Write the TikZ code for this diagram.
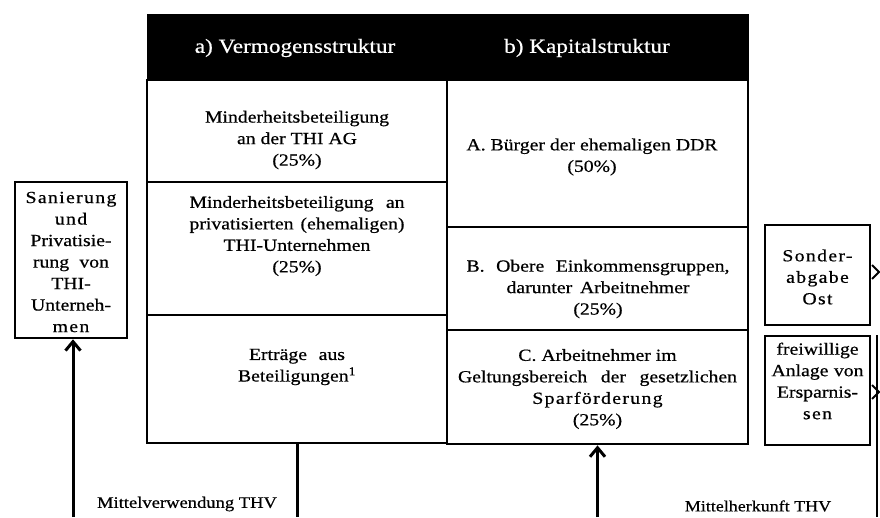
\documentclass[tikz,border=0pt]{standalone}
\usepackage{fontspec}
\setmainfont[FakeStretch=1.16,FakeBold=0.6]{Liberation Serif}
\newfontfamily\spacedfont[FakeStretch=1.16,FakeBold=0.6,LetterSpace=8]{Liberation Serif}
\usetikzlibrary{arrows.meta,calc}
\newcommand{\jl}[2]{\makebox[#1][s]{#2}}
\begin{document}
\begin{tikzpicture}[x=1pt,y=-1pt,
  cell/.style={draw=black,line width=2.8pt,fill=white,inner sep=0pt},
  sidebox/.style={draw=black,line width=2.5pt,fill=white,inner sep=0pt},
  txt/.style={inner sep=0pt,align=center,font=\fontsize{17}{21.5}\selectfont},
  headtxt/.style={inner sep=0pt,text=white,font=\fontsize{20}{24}\selectfont},
  lbl/.style={inner sep=0pt,font=\fontsize{16}{19}\selectfont},
  flow/.style={line width=3pt},
  flowarrow/.style={line width=3pt,-{Straight Barb[length=9pt,width=15pt]}},
  chev/.style={line width=2pt}
]
\useasboundingbox (0,0) rectangle (880,517);
% header
\node[fill=black,draw=black,line width=1pt,minimum width=601pt,minimum height=66pt,inner sep=0pt] (hdr) at (447.5,47) {};
\node[headtxt] (ha) at (295,48) {a) Vermogensstruktur};
\node[headtxt] (hb) at (587,48) {b) Kapitalstruktur};
% left column cells
\node[cell,minimum width=300pt,minimum height=102pt] (l1) at (297,131) {};
\node[cell,minimum width=300pt,minimum height=133pt] (l2) at (297,248.5) {};
\node[cell,minimum width=300pt,minimum height=128pt] (l3) at (297,379) {};
% right column cells
\node[cell,minimum width=301pt,minimum height=147pt] (r1) at (597.5,153.5) {};
\node[cell,minimum width=301pt,minimum height=103pt] (r2) at (597.5,278.5) {};
\node[cell,minimum width=301pt,minimum height=114pt] (r3) at (597.5,387) {};
% cell texts
\node[txt] (t1) at (297,140) {Minderheitsbeteiligung\\an der THI AG\\(25\%)};
\node[txt] (t2) at (297,236) {\jl{215pt}{Minderheitsbeteiligung an}\\\jl{215pt}{privatisierten (ehemaligen)}\\THI-Unternehmen\\(25\%)};
\node[txt] (t3) at (297,367) {\jl{96pt}{Erträge aus}\\Beteiligungen\textsuperscript{1}};
\node[txt] (t4) at (592,157) {A. Bürger der ehemaligen DDR\\(50\%)};
\node[txt] (t5) at (598,289) {\jl{263pt}{B. Obere Einkommensgruppen,}\\\jl{183pt}{darunter Arbeitnehmer}\\(25\%)};
\node[txt] (t6) at (597.5,389) {C. Arbeitnehmer im\\\jl{279pt}{Geltungsbereich der gesetzlichen}\\{\spacedfont Sparförderung}\\(25\%)};
% side boxes
\node[sidebox,minimum width=112pt,minimum height=156pt] (san) at (71,260) {};
\node[txt] (sant) at (71,262) {{\spacedfont Sanierung}\\{\spacedfont und}\\Privatisie-\\\jl{76pt}{rung von}\\THI-\\Unterneh-\\{\spacedfont men}};
\node[sidebox,minimum width=105pt,minimum height=100pt] (son) at (817.5,275) {};
\node[txt] (sont) at (817.5,277) {{\spacedfont Sonder-}\\{\spacedfont abgabe}\\{\spacedfont Ost}};
\node[sidebox,minimum width=105pt,minimum height=109pt] (frei) at (817.5,390.5) {};
\node[txt] (freit) at (817.5,381) {freiwillige\\\jl{92pt}{Anlage von}\\Ersparnis-\\{\spacedfont sen}};
% connectors
\coordinate (lbot) at (73,517);
\coordinate (mbot) at (297,517);
\coordinate (kbot) at (597.5,517);
\draw[flowarrow] (lbot) -- (lbot |- san.south);
\draw[flow] (l3.south) -- (mbot);
\draw[flowarrow] (kbot) -- (r3.south);
% chevrons at right edge
\coordinate (c1) at (879,272);
\coordinate (c2) at (879,392);
\draw[chev] ($(c1)+(-7,-7)$) -- (c1) -- ($(c1)+(-7,7)$);
\draw[chev] ($(c2)+(-7,-7)$) -- (c2) -- ($(c2)+(-7,7)$);
\coordinate (rl1) at (877,335);
\coordinate (rl2) at (877,517);
\draw[line width=1.2pt] (rl1) -- (rl2);
% labels
\node[lbl] (mv) at (187,504) {Mittelverwendung THV};
\node[lbl,font=\fontsize{15.5}{19}\selectfont] (mh) at (758,506) {Mittelherkunft THV};
\end{tikzpicture}
\end{document}
